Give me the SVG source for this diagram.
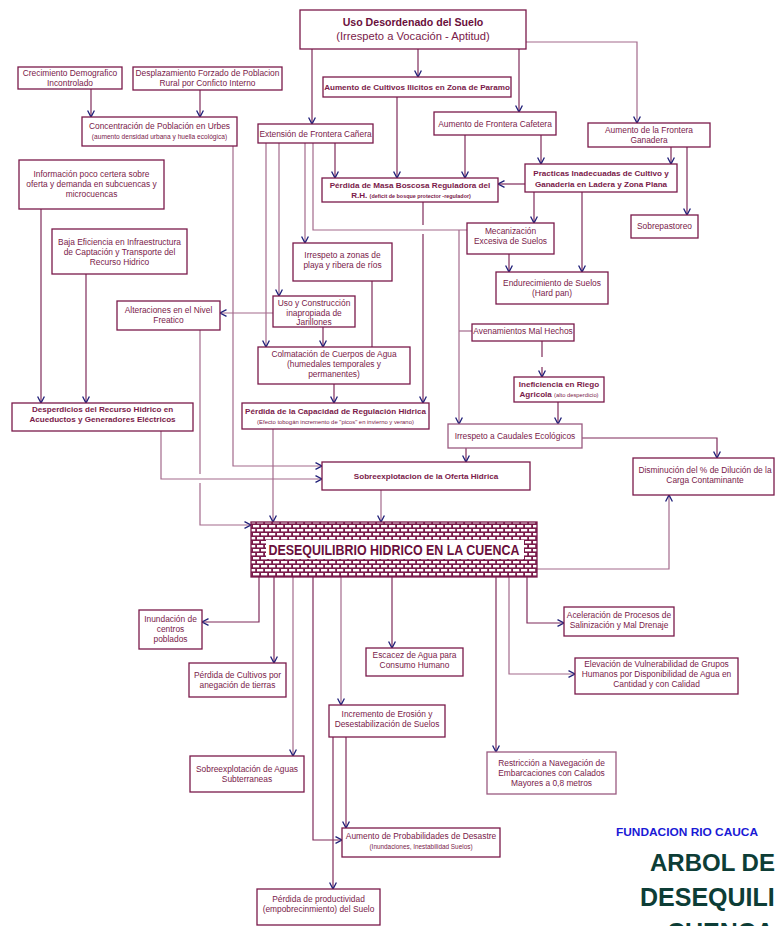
<svg xmlns="http://www.w3.org/2000/svg" width="776" height="926" viewBox="0 0 776 926">
<defs>
<style>
.b{fill:#fff;stroke:#7a1a4a;stroke-width:1.3}
.bl{fill:#fff;stroke:#9a5a80;stroke-width:1.3}
.t{font-family:"Liberation Sans",Arial,sans-serif;font-size:8.4px;fill:#7a1a4a;text-anchor:middle}
.tb{font-weight:bold;font-size:8.1px}
.c{fill:none;stroke:#7f2a5a;stroke-width:1.2}
.cl{fill:none;stroke:#a36a8c;stroke-width:1.2}
.ca{marker-end:url(#a)}
.ft{font-family:"Liberation Sans",Arial,sans-serif;font-weight:bold;font-size:25px;fill:#0d3d36}
</style>
<marker id="a" markerUnits="userSpaceOnUse" markerWidth="10" markerHeight="8" viewBox="0 0 10 8" refX="7.5" refY="4" orient="auto">
<path d="M1,0.6 L7.5,4 L1,7.4" fill="none" stroke="#1f1f78" stroke-width="1.3"/>
</marker>
<pattern id="brick" width="8" height="8" patternUnits="userSpaceOnUse">
<rect width="8" height="8" fill="#7a1a4a"/>
<rect x="1" y="1" width="6.2" height="2.4" fill="#fff"/>
<rect x="-3" y="5" width="6.2" height="2.4" fill="#fff"/>
<rect x="5" y="5" width="6.2" height="2.4" fill="#fff"/>
</pattern>
</defs>
<rect width="776" height="926" fill="#fff"/>

<g id="connectors">
<path class="c ca" d="M312,49 V124"/>
<path class="c ca" d="M418,49 V77"/>
<path class="c ca" d="M519,49 V112"/>
<path class="cl ca" d="M526,42 H637 V123"/>
<path class="c ca" d="M91,89 V117"/>
<path class="c ca" d="M200,90 V117"/>
<path class="cl ca" d="M233,146 V466 H322"/>
<path class="c ca" d="M397,97 V178"/>
<path class="c ca" d="M465,135 V178"/>
<path class="c ca" d="M541,135 V164"/>
<path class="c ca" d="M671,147 V164"/>
<path class="c ca" d="M687,147 V215"/>
<path class="c ca" d="M525,184 H498"/>
<path class="c ca" d="M534,192 V223"/>
<path class="c ca" d="M582,192 V272"/>
<path class="c ca" d="M509,254 V272"/>
<path class="c ca" d="M335,143 V178"/>
<path class="cl" d="M313,143 V230 H467"/>
<path class="cl ca" d="M459,230 V424"/>
<path class="cl" d="M472,331 H459"/>
<path class="cl ca" d="M305,143 V243"/>
<path class="cl ca" d="M279,143 V296"/>
<path class="cl ca" d="M266,143 V347"/>
<path class="c" d="M423,202 V225"/>
<path class="c ca" d="M423,234 V403"/>
<path class="c" d="M372,281 V347"/>
<path class="c ca" d="M323,327 V347"/>
<path class="cl ca" d="M273,313 H220"/>
<path class="c ca" d="M334,384 V403"/>
<path class="c ca" d="M41,209 V403"/>
<path class="c ca" d="M86,274 V403"/>
<path class="cl ca" d="M161,431 V479 H322"/>
<path class="cl" d="M200,330 V474"/>
<path class="cl ca" d="M200,483 V525 H251"/>
<path class="cl ca" d="M273,429 V522"/>
<path class="cl ca" d="M381,490 V522"/>
<path class="c ca" d="M466,448 V462"/>
<path class="c ca" d="M582,438 H717 V458"/>
<path class="c" d="M542,341 V357"/>
<path class="c ca" d="M542,367 V377"/>
<path class="c ca" d="M558,402 V424"/>
<path class="cl ca" d="M537,569 H669 V495"/>
<path class="c ca" d="M259,577 V622 H202"/>
<path class="c ca" d="M274,577 V663"/>
<path class="cl ca" d="M293,577 V756"/>
<path class="c ca" d="M313,577 V840 H342"/>
<path class="cl ca" d="M341,577 V705"/>
<path class="c ca" d="M392,577 V648"/>
<path class="c ca" d="M496,577 V752"/>
<path class="cl ca" d="M509,577 V674 H575"/>
<path class="c ca" d="M527,577 V623 H564"/>
<path class="c ca" d="M346,737 V828"/>
<path class="c ca" d="M333,737 V889"/>
</g>

<g id="uso-desordenado">
<rect class="b" x="300" y="10" width="226" height="39"/>
<text class="t" x="413" y="26" style="font-weight:bold;font-size:10.6px;fill:#6a0f3c">Uso Desordenado del Suelo</text>
<text class="t" x="413" y="40" style="font-size:11.2px">(Irrespeto a Vocación - Aptitud)</text>
</g>
<g id="crecimiento">
<rect class="b" x="18" y="67" width="104" height="22"/>
<text class="t" x="70" y="75.7">Crecimiento Demografico</text>
<text class="t" x="70" y="86">Incontrolado</text>
</g>
<g id="desplazamiento">
<rect class="b" x="133" y="67" width="149" height="23"/>
<text class="t" x="207.5" y="75.7">Desplazamiento Forzado de Poblacion</text>
<text class="t" x="207.5" y="86">Rural por Conficto Interno</text>
</g>
<g id="cultivos-ilicitos">
<rect class="b" x="323" y="77" width="188" height="20"/>
<text class="t tb" x="417" y="89.5">Aumento de Cultivos Ilicitos en Zona de Paramo</text>
</g>
<g id="concentracion">
<rect class="b" x="82" y="117" width="155" height="29"/>
<text class="t" x="159.5" y="128.5">Concentración de Población en Urbes</text>
<text class="t" x="159.5" y="139" style="font-size:6.6px">(aumento densidad urbana y huella ecológica)</text>
</g>
<g id="extension-canera">
<rect class="b" x="258" y="124" width="115" height="19"/>
<text class="t" x="315.5" y="137">Extensión de Frontera Cañera</text>
</g>
<g id="cafetera">
<rect class="b" x="434" y="112" width="122" height="23"/>
<text class="t" x="495" y="126.5">Aumento de Frontera Cafetera</text>
</g>
<g id="ganadera">
<rect class="b" x="588" y="123" width="122" height="24"/>
<text class="t" x="649" y="132.5">Aumento de la Frontera</text>
<text class="t" x="649" y="142.5">Ganadera</text>
</g>
<g id="masa-boscosa">
<rect class="b" x="322" y="178" width="176" height="24"/>
<text class="t tb" x="410" y="187.5">Pérdida de Masa Boscosa Reguladora del</text>
<text class="t tb" x="411" y="198">R.H. <tspan style="font-size:5.4px">(deficit de bosque protector -regulador)</tspan></text>
</g>
<g id="practicas">
<rect class="b" x="525" y="164" width="152" height="28"/>
<text class="t tb" x="601" y="175.5">Practicas Inadecuadas de Cultivo y</text>
<text class="t tb" x="601" y="186.5">Ganaderia en Ladera y Zona Plana</text>
</g>
<g id="sobrepastoreo">
<rect class="b" x="631" y="215" width="67" height="23"/>
<text class="t" x="664.5" y="228.5">Sobrepastoreo</text>
</g>
<g id="mecanizacion">
<rect class="b" x="467" y="223" width="87" height="31"/>
<text class="t" x="510.5" y="234">Mecanización</text>
<text class="t" x="510.5" y="244">Excesiva de Suelos</text>
</g>
<g id="informacion">
<rect class="b" x="19" y="160" width="145" height="49"/>
<text class="t" x="91.5" y="177">Información poco certera sobre</text>
<text class="t" x="91.5" y="187">oferta y demanda en subcuencas y</text>
<text class="t" x="91.5" y="197">microcuencas</text>
</g>
<g id="irrespeto-playa">
<rect class="b" x="293" y="243" width="99" height="38"/>
<text class="t" x="342.5" y="258">Irrespeto a zonas de</text>
<text class="t" x="342.5" y="268">playa y ribera de ríos</text>
</g>
<g id="baja-eficiencia">
<rect class="b" x="52" y="229" width="135" height="45"/>
<text class="t" x="119.5" y="245">Baja Eficiencia en Infraestructura</text>
<text class="t" x="119.5" y="255">de Captación y Transporte del</text>
<text class="t" x="119.5" y="265">Recurso Hidrico</text>
</g>
<g id="endurecimiento">
<rect class="b" x="496" y="272" width="112" height="32"/>
<text class="t" x="552" y="286">Endurecimiento de Suelos</text>
<text class="t" x="552" y="296">(Hard pan)</text>
</g>
<g id="alteraciones">
<rect class="b" x="117" y="301" width="103" height="29"/>
<text class="t" x="168.5" y="313">Alteraciones en el Nivel</text>
<text class="t" x="168.5" y="323">Freatico</text>
</g>
<g id="jarillones">
<rect class="b" x="273" y="296" width="82" height="31"/>
<text class="t" x="314" y="305.5">Uso y Construcción</text>
<text class="t" x="314" y="315.5">inapropiada de</text>
<text class="t" x="314" y="325">Jarillones</text>
</g>
<g id="avenamientos">
<rect class="b" x="472" y="324" width="102" height="17"/>
<text class="t" x="523" y="334">Avenamientos Mal Hechos</text>
</g>
<g id="colmatacion">
<rect class="b" x="258" y="347" width="152" height="37"/>
<text class="t" x="334" y="357">Colmatación de Cuerpos de Agua</text>
<text class="t" x="334" y="367">(humedales temporales y</text>
<text class="t" x="334" y="377">permanentes)</text>
</g>
<g id="ineficiencia-riego">
<rect class="b" x="514" y="377" width="90" height="25"/>
<text class="t tb" x="559" y="386.5">Ineficiencia en Riego</text>
<text class="t tb" x="559" y="397">Agricola <tspan style="font-weight:normal;font-size:5.8px">(alto desperdicio)</tspan></text>
</g>
<g id="desperdicios">
<rect class="b" x="12" y="403" width="181" height="28"/>
<text class="t tb" x="102.5" y="412">Desperdicios del Recurso Hidrico en</text>
<text class="t tb" x="102.5" y="422">Acueductos y Generadores Eléctricos</text>
</g>
<g id="capacidad-regulacion">
<rect class="b" x="242" y="403" width="187" height="26"/>
<text class="t tb" x="335.5" y="414">Pérdida de la Capacidad de Regulación Hidrica</text>
<text class="t" x="335.5" y="424" style="font-size:5.9px">(Efecto tobogán incremento de "picos" en invierno y verano)</text>
</g>
<g id="caudales">
<rect class="bl" x="448" y="424" width="134" height="24"/>
<text class="t" x="515" y="439">Irrespeto a Caudales Ecológicos</text>
</g>
<g id="sobreexplotacion-oferta">
<rect class="b" x="322" y="462" width="208" height="28"/>
<text class="t tb" x="426" y="479">Sobreexplotacion de la Oferta Hidrica</text>
</g>
<g id="dilucion">
<rect class="b" x="633" y="458" width="141" height="37"/>
<text class="t" x="705" y="473">Disminución del % de Dilución de la</text>
<text class="t" x="705" y="483">Carga Contaminante</text>
</g>
<g id="desequilibrio">
<rect x="251" y="522" width="286" height="55" fill="url(#brick)" stroke="#7a1a4a" stroke-width="1.3"/>
<rect x="266" y="540" width="258" height="19" fill="#fff"/>
<text class="t" x="394" y="555" style="font-weight:bold;font-size:15.5px;fill:#6a0f3c" textLength="251" lengthAdjust="spacingAndGlyphs">DESEQUILIBRIO HIDRICO EN LA CUENCA</text>
</g>
<g id="inundacion">
<rect class="b" x="139" y="610" width="63" height="39"/>
<text class="t" x="170.5" y="621.5">Inundación de</text>
<text class="t" x="170.5" y="631.5">centros</text>
<text class="t" x="170.5" y="641.5">poblados</text>
</g>
<g id="salinizacion">
<rect class="b" x="564" y="607" width="110" height="29"/>
<text class="t" x="619" y="617.5">Aceleración de Procesos de</text>
<text class="t" x="619" y="628">Salinización y Mal Drenaje</text>
</g>
<g id="escacez">
<rect class="b" x="366" y="648" width="97" height="28"/>
<text class="t" x="414.5" y="658">Escacez de Agua para</text>
<text class="t" x="414.5" y="668">Consumo Humano</text>
</g>
<g id="perdida-cultivos">
<rect class="b" x="189" y="663" width="97" height="34"/>
<text class="t" x="237.5" y="678">Pérdida de Cultivos por</text>
<text class="t" x="237.5" y="688">anegación de tierras</text>
</g>
<g id="vulnerabilidad">
<rect class="b" x="575" y="658" width="163" height="36"/>
<text class="t" x="656.5" y="667">Elevación de Vulnerabilidad de Grupos</text>
<text class="t" x="656.5" y="677">Humanos por Disponibilidad de Agua en</text>
<text class="t" x="656.5" y="687">Cantidad y con Calidad</text>
</g>
<g id="erosion">
<rect class="b" x="329" y="705" width="116" height="32"/>
<text class="t" x="387" y="717">Incremento de Erosión y</text>
<text class="t" x="387" y="727">Desestabilización de Suelos</text>
</g>
<g id="aguas-subterraneas">
<rect class="b" x="190" y="756" width="114" height="36"/>
<text class="t" x="247" y="772">Sobreexplotación de Aguas</text>
<text class="t" x="247" y="782">Subterraneas</text>
</g>
<g id="navegacion">
<rect class="bl" x="487" y="752" width="129" height="42"/>
<text class="t" x="551.5" y="766">Restricción a Navegación de</text>
<text class="t" x="551.5" y="776">Embarcaciones con Calados</text>
<text class="t" x="551.5" y="786">Mayores a 0,8 metros</text>
</g>
<g id="desastre">
<rect class="b" x="342" y="828" width="158" height="29"/>
<text class="t" x="421" y="839">Aumento de Probabilidades de Desastre</text>
<text class="t" x="421" y="849" style="font-size:6.4px">(Inundaciones, Inestabilidad Suelos)</text>
</g>
<g id="productividad">
<rect class="b" x="257" y="889" width="123" height="36"/>
<text class="t" x="318.5" y="902">Pérdida de productividad</text>
<text class="t" x="318.5" y="912">(empobrecinmiento) del Suelo</text>
</g>

<g id="titulo">
<text x="616" y="835.5" font-family="'Liberation Sans',Arial,sans-serif" font-weight="bold" font-size="11px" fill="#1a1ad6" textLength="142" lengthAdjust="spacingAndGlyphs">FUNDACION  RIO  CAUCA</text>
<text class="ft" x="650" y="871" style="font-size:24px">ARBOL DE</text>
<text class="ft" x="640" y="906">DESEQUILI</text>
<text class="ft" x="667" y="941">CUENCA</text>
</g>
</svg>
